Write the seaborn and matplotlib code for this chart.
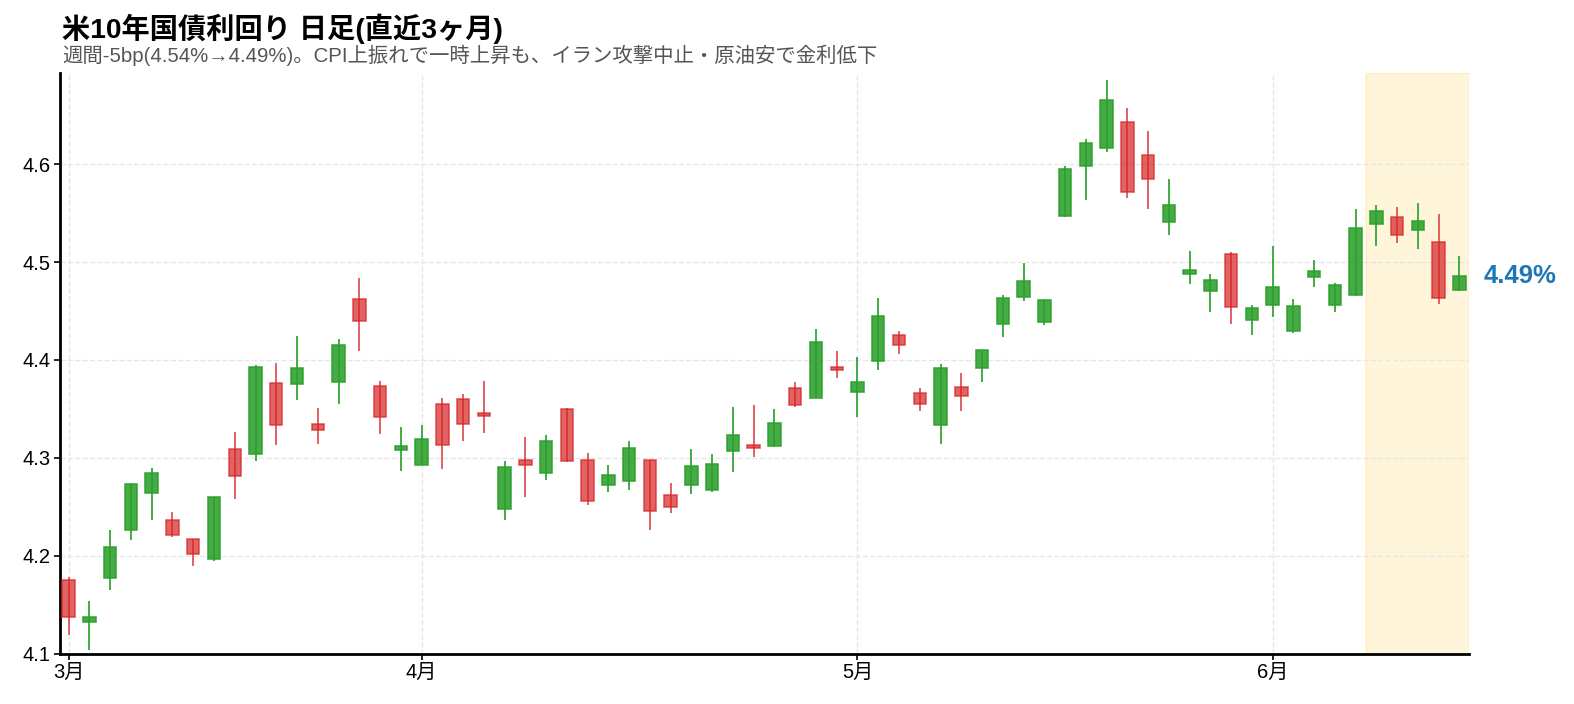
import numpy as np
import pandas as pd
import matplotlib
matplotlib.use('Agg')
import matplotlib.pyplot as plt
import seaborn as sns

TITLE = '米10年国債利回り 日足(直近3ヶ月)'
SUBTITLE = '週間-5bp(4.54%→4.49%)。CPI上振れで一時上昇も、イラン攻撃中止・原油安で金利低下'

# 日足 OHLC (%)
opens = [4.175, 4.132, 4.177, 4.226, 4.264, 4.236, 4.217, 4.197, 4.309, 4.304,
         4.376, 4.375, 4.335, 4.377, 4.462, 4.373, 4.308, 4.293, 4.355, 4.360,
         4.346, 4.248, 4.298, 4.285, 4.350, 4.298, 4.272, 4.276, 4.298, 4.262,
         4.272, 4.267, 4.307, 4.313, 4.312, 4.371, 4.361, 4.393, 4.367, 4.399,
         4.426, 4.366, 4.334, 4.372, 4.392, 4.437, 4.464, 4.439, 4.547, 4.598,
         4.617, 4.643, 4.609, 4.541, 4.488, 4.470, 4.508, 4.441, 4.456, 4.430,
         4.485, 4.456, 4.466, 4.539, 4.546, 4.533, 4.521, 4.472]
highs = [4.178, 4.154, 4.226, 4.274, 4.290, 4.245, 4.217, 4.260, 4.326, 4.395,
         4.397, 4.425, 4.351, 4.421, 4.484, 4.379, 4.332, 4.334, 4.361, 4.365,
         4.379, 4.297, 4.321, 4.323, 4.351, 4.305, 4.293, 4.317, 4.298, 4.274,
         4.309, 4.304, 4.352, 4.354, 4.350, 4.378, 4.432, 4.409, 4.403, 4.463,
         4.430, 4.371, 4.396, 4.387, 4.410, 4.466, 4.499, 4.461, 4.598, 4.626,
         4.686, 4.658, 4.634, 4.585, 4.511, 4.488, 4.510, 4.456, 4.516, 4.462,
         4.502, 4.479, 4.554, 4.558, 4.556, 4.560, 4.549, 4.506]
lows = [4.119, 4.104, 4.165, 4.216, 4.236, 4.219, 4.189, 4.195, 4.258, 4.297,
        4.313, 4.359, 4.314, 4.355, 4.409, 4.324, 4.287, 4.293, 4.289, 4.317,
        4.325, 4.236, 4.260, 4.277, 4.296, 4.252, 4.265, 4.267, 4.226, 4.244,
        4.263, 4.265, 4.286, 4.301, 4.311, 4.352, 4.361, 4.382, 4.342, 4.390,
        4.406, 4.348, 4.314, 4.348, 4.378, 4.423, 4.460, 4.436, 4.546, 4.563,
        4.613, 4.566, 4.554, 4.528, 4.478, 4.449, 4.437, 4.426, 4.444, 4.428,
        4.475, 4.449, 4.465, 4.516, 4.520, 4.513, 4.457, 4.470]
closes = [4.137, 4.137, 4.209, 4.273, 4.285, 4.221, 4.202, 4.260, 4.281, 4.393,
          4.334, 4.392, 4.328, 4.415, 4.440, 4.342, 4.312, 4.319, 4.313, 4.335,
          4.343, 4.291, 4.293, 4.317, 4.297, 4.256, 4.282, 4.310, 4.246, 4.250,
          4.292, 4.294, 4.323, 4.310, 4.336, 4.354, 4.418, 4.390, 4.378, 4.445,
          4.415, 4.355, 4.392, 4.363, 4.410, 4.463, 4.481, 4.461, 4.595, 4.622,
          4.666, 4.572, 4.585, 4.558, 4.492, 4.482, 4.454, 4.453, 4.475, 4.455,
          4.491, 4.477, 4.535, 4.552, 4.528, 4.542, 4.463, 4.486]

month_labels = ['3月', '4月', '5月', '6月']
month_starts = [0, 17, 38, 58]   # 各月の最初の営業日
week_start = 63                  # 直近1週間

UP = '#2ca02c'
DOWN = '#d62728'

sns.set_theme(style='white')
plt.rcParams['font.family'] = ['Liberation Sans', 'Noto Sans CJK JP', 'DejaVu Sans']

df = pd.DataFrame({'open': opens, 'high': highs, 'low': lows, 'close': closes})
df['i'] = np.arange(len(df))
df['color'] = np.where(df['close'] >= df['open'], UP, DOWN)
df['alpha'] = np.where(df['close'] >= df['open'], 0.88, 0.72)
df['body_lo'] = df[['open', 'close']].min(axis=1)
df['body_h'] = (df['close'] - df['open']).abs()

fig = plt.figure(figsize=(15.74, 7.04), dpi=100)
ax = fig.add_axes([0.0381, 0.0717, 0.8952, 0.8242])

# 今週のハイライト
ax.axvspan(week_start - 0.5, len(df) - 0.5, color='#ffc107', alpha=0.15, lw=1.5, zorder=0)

for up in [True, False]:
    d = df[(df['color'] == UP) == up]
    a = d['alpha'].iloc[0]
    ax.vlines(d['i'], d['low'], d['high'], color=d['color'], linewidth=1.4, alpha=a, zorder=2)
    ax.bar(d['i'], d['body_h'], bottom=d['body_lo'], width=0.6, color=d['color'],
           edgecolor=d['color'], linewidth=1.2, alpha=a, zorder=3)

last = df['close'].iloc[-1]
ax.text(68.15, last, f'{last:.2f}%', color='#1f77b4', fontsize=18.5, fontweight='bold',
        va='center', ha='left', clip_on=False)

ax.set_xlim(-0.42, 67.46)
ax.set_ylim(4.1, 4.693)
ax.set_xticks(month_starts, month_labels)
ax.set_yticks([4.1, 4.2, 4.3, 4.4, 4.5, 4.6])
ax.grid(True, linestyle='--', color='#e6e6e6', linewidth=1)
ax.set_axisbelow(True)
ax.tick_params(axis='both', labelsize=14.5, length=4, width=1.2, color='black',
               labelcolor='black', bottom=True, left=True, pad=3)
sns.despine(ax=ax)
for s in ['left', 'bottom']:
    ax.spines[s].set_color('black')
    ax.spines[s].set_linewidth(2)

fig.text(0.0395, 0.9457, TITLE, fontsize=20.3, fontweight='bold', color='black',
         va='baseline', ha='left')
fig.text(0.0395, 0.9116, SUBTITLE, fontsize=14.7, color='#555555', va='baseline', ha='left')

fig.savefig('out.png', dpi=100)
